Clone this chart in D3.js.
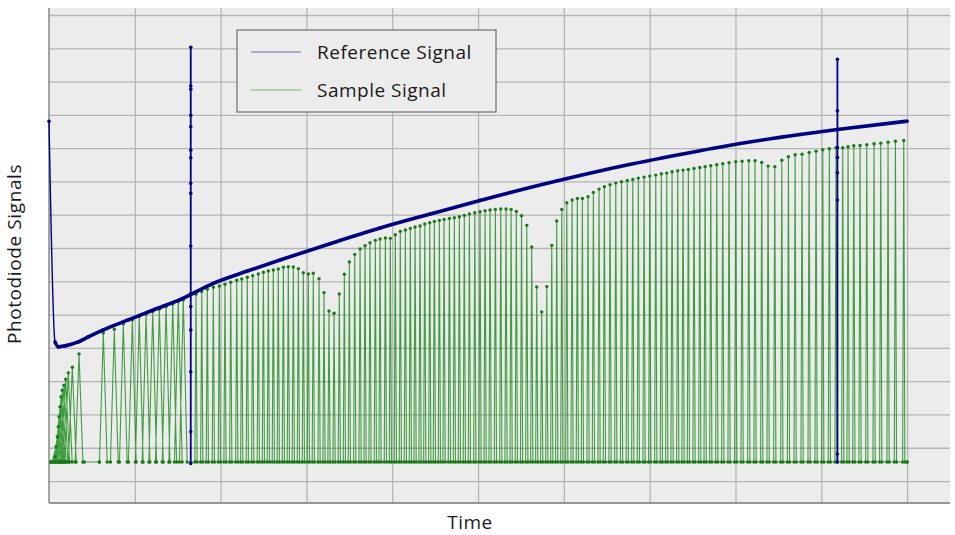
<!DOCTYPE html>
<html>
<head>
<meta charset="utf-8">
<script src="https://cdn.jsdelivr.net/npm/d3@7"></script>
<style>
  body { margin: 0; background: #fff; }
  text { font-family: "Open Sans", "Noto Sans", sans-serif; fill: #1a1a1a; }
</style>
</head>
<body>
<div id="chart"></div>
<script>

// chart values (time in grid units, signal in grid units)

var peakTimes = [
  0.070, 0.082, 0.097, 0.108, 0.117, 0.128, 0.140, 0.155, 0.175, 0.195, 0.225, 0.272, 0.350,
  0.633, 0.761, 0.866, 0.971, 1.052, 1.131, 1.209, 1.286, 1.364, 1.442, 1.507, 1.565,
  1.713, 1.780, 1.845, 1.915, 1.985, 2.051, 2.118, 2.188, 2.246, 2.311, 2.374, 2.439, 2.498,
  2.556, 2.614, 2.672, 2.731, 2.789, 2.847, 2.906, 2.964, 3.022, 3.080, 3.147, 3.205, 3.263,
  3.322, 3.383, 3.442, 3.500, 3.563, 3.625, 3.683, 3.741, 3.803, 3.858, 3.920, 3.978, 4.036,
  4.094, 4.153, 4.211, 4.266, 4.324, 4.379, 4.437, 4.491, 4.549, 4.604, 4.666, 4.724, 4.782,
  4.840, 4.899, 4.962, 5.023, 5.082, 5.140, 5.202, 5.265, 5.326, 5.385, 5.446, 5.507, 5.568,
  5.626, 5.684, 5.742, 5.801, 5.859, 5.917, 5.976, 6.034, 6.096, 6.157, 6.216, 6.282, 6.344,
  6.410, 6.472, 6.538, 6.605, 6.672, 6.739, 6.803, 6.868, 6.935, 7.001, 7.071, 7.136, 7.199,
  7.261, 7.327, 7.389, 7.451, 7.517, 7.584, 7.646, 7.712, 7.782, 7.852, 7.925, 8.003, 8.077,
  8.155, 8.228, 8.306, 8.380, 8.458, 8.540, 8.617, 8.695, 8.776, 8.858, 8.939, 9.017, 9.094,
  9.172, 9.250, 9.312, 9.379, 9.452, 9.530, 9.615, 9.693, 9.778, 9.864, 9.961
];

var peakValues = [
  0.73, 1.03, 1.33, 1.63, 1.93, 2.23, 2.53, 2.73, 2.88, 3.06, 3.25, 3.42, 3.82,
  4.45, 4.56, 4.72, 4.84, 4.94, 5.02, 5.09, 5.16, 5.24, 5.32, 5.39, 5.44,
  5.61, 5.69, 5.76, 5.82, 5.86, 5.91, 5.97, 6.03, 6.07, 6.12, 6.17, 6.22, 6.27,
  6.31, 6.34, 6.37, 6.42, 6.44, 6.43, 6.38, 6.26, 6.22, 6.24, 6.08, 5.66, 5.11,
  5.04, 5.62, 6.21, 6.58, 6.81, 6.97, 7.07, 7.16, 7.23, 7.27, 7.30, 7.29, 7.40,
  7.50, 7.54, 7.59, 7.63, 7.66, 7.72, 7.76, 7.80, 7.83, 7.86, 7.89, 7.91, 7.94,
  7.98, 8.02, 8.06, 8.09, 8.12, 8.14, 8.16, 8.17, 8.17, 8.16, 8.10, 7.97, 7.68,
  7.03, 5.83, 5.08, 5.84, 7.08, 7.81, 8.16, 8.36, 8.44, 8.49, 8.49, 8.54, 8.67,
  8.77, 8.84, 8.90, 8.95, 8.99, 9.03, 9.06, 9.10, 9.13, 9.16, 9.19, 9.23, 9.25,
  9.29, 9.32, 9.34, 9.36, 9.39, 9.42, 9.44, 9.47, 9.50, 9.53, 9.56, 9.59, 9.61,
  9.62, 9.62, 9.57, 9.46, 9.44, 9.64, 9.74, 9.80, 9.82, 9.87, 9.91, 9.95, 9.98,
  10.01, 10.01, 10.04, 10.07, 10.08, 10.10, 10.13, 10.15, 10.18, 10.21, 10.23
];

var baselineLevel = 0.57;
var idleTimes = [0.02, 0.411, 0.586, 10.0];   // flat stretches of the sample signal

var refTimes  = [0, 0.070, 0.108, 0.186, 0.341, 0.458, 0.633, 0.924, 1.235, 1.527, 1.915, 2.304,
                 2.692, 3.275, 3.858, 4.441, 5.023, 5.606, 6.189, 6.655, 7.354, 8.054, 8.753, 9.188, 10.0];
var refValues = [10.81, 4.18, 4.03, 4.06, 4.18, 4.33, 4.54, 4.84, 5.16, 5.45, 5.94, 6.30,
                 6.64, 7.13, 7.60, 8.02, 8.43, 8.82, 9.18, 9.45, 9.81, 10.14, 10.41, 10.56, 10.81];

// the two glitches of the reference signal
var spike1Time = 1.652;
var spike1Values = [5.62, 7.06, 8.64, 9.71, 10.64, 11.77, 13.03, 11.87, 10.99, 9.94, 8.94,
                    5.24, 4.54, 3.28, 1.48, 0.53, 5.62];
var spike2Time = 9.188;
var spike2Values = [10.56, 11.12, 12.67, 10.02, 9.72, 9.26, 8.44, 0.81, 0.57, 10.56];

var seriesNames = ["Reference Signal", "Sample Signal"];
var xTicks = d3.range(0, 11);
var yTicks = d3.range(0, 15);

// layout

var width = 955,
    height = 535,
    margin = {top: 8, right: 5, bottom: 32, left: 49};
var plotW = width - margin.left - margin.right,
    plotH = height - margin.top - margin.bottom;

var navy = "#000080",
    green = "#178a17";

var svg = d3.select("#chart").append("svg")
  .attr("width", width)
  .attr("height", height);

var x = d3.scaleLinear().domain([0, 10.5]).range([margin.left, margin.left + plotW]);
var y = d3.scaleLinear().domain([-0.66, 14.21]).range([margin.top + plotH, margin.top]);

// background
svg.append("rect")
  .attr("x", margin.left).attr("y", margin.top)
  .attr("width", plotW).attr("height", plotH)
  .style("fill", "#ececec");

// grid
svg.append("g")
  .attr("transform", "translate(" + margin.left + ",0)")
  .call(d3.axisLeft(y).tickValues(yTicks).tickSize(-plotW).tickFormat(""))
  .call(g => g.select(".domain").remove())
  .selectAll("line").style("stroke", "#b5b5b5").style("stroke-width", 1.3);

svg.append("g")
  .attr("transform", "translate(0," + (margin.top + plotH) + ")")
  .call(d3.axisBottom(x).tickValues(xTicks.slice(1)).tickSize(-plotH).tickFormat(""))
  .call(g => g.select(".domain").remove())
  .selectAll("line").style("stroke", "#b5b5b5").style("stroke-width", 1.3);

// axis lines
svg.append("line")
  .attr("x1", margin.left).attr("x2", margin.left)
  .attr("y1", margin.top).attr("y2", margin.top + plotH)
  .style("stroke", "#777").style("stroke-width", 1.3);
svg.append("line")
  .attr("x1", margin.left).attr("x2", margin.left + plotW)
  .attr("y1", margin.top + plotH).attr("y2", margin.top + plotH)
  .style("stroke", "#777").style("stroke-width", 1.3);

// sample signal: each pulse rises from the baseline and falls back
var halfWidth = function(t) { return t < 1.6 ? 0.045 : 0.013; };

var samplePts = [[idleTimes[0], baselineLevel]];
peakTimes.forEach(function(t, i) {
  var w = halfWidth(t);
  samplePts.push([t - w, baselineLevel], [t, peakValues[i]], [t + w, baselineLevel]);
});
samplePts.push([idleTimes[idleTimes.length - 1], baselineLevel]);

var line = d3.line().x(d => x(d[0])).y(d => y(d[1]));

svg.append("path")
  .datum(samplePts)
  .attr("d", line)
  .style("fill", "none")
  .style("stroke", green)
  .style("stroke-opacity", 0.8)
  .style("stroke-width", 1.1);

svg.append("g").selectAll("circle")
  .data(samplePts.concat(idleTimes.map(t => [t, baselineLevel])))
  .enter().append("circle")
  .attr("cx", d => x(d[0]))
  .attr("cy", d => y(d[1]))
  .attr("r", 1.7)
  .style("fill", "#1a7a1a");

// reference signal
var refPts = refTimes.map((t, i) => [t, refValues[i]]);
var smooth = d3.line().x(d => x(d[0])).y(d => y(d[1])).curve(d3.curveMonotoneX);

svg.append("path")
  .datum(refPts)
  .attr("d", smooth)
  .style("fill", "none").style("stroke", navy).style("stroke-width", 1.4);

// dense sampling makes the slow part of the curve look heavy
svg.append("path")
  .datum(refPts.slice(1))
  .attr("d", smooth)
  .style("fill", "none").style("stroke", navy).style("stroke-width", 3.6);

var spikePts = spike1Values.map(v => [spike1Time, v])
  .concat(spike2Values.map(v => [spike2Time, v]));

[spike1Values.map(v => [spike1Time, v]), spike2Values.map(v => [spike2Time, v])].forEach(function(pts) {
  svg.append("path")
    .datum(pts)
    .attr("d", line)
    .style("fill", "none").style("stroke", navy).style("stroke-width", 1.8);
});

svg.append("g").selectAll("circle")
  .data(refPts.concat(spikePts))
  .enter().append("circle")
  .attr("cx", d => x(d[0]))
  .attr("cy", d => y(d[1]))
  .attr("r", 1.8)
  .style("fill", navy);

// legend
var legend = svg.append("g").attr("transform", "translate(237,30)");
legend.append("rect")
  .attr("width", 259).attr("height", 82)
  .style("fill", "#ececec").style("stroke", "#6e6e6e").style("stroke-width", 1.2);

legend.selectAll("g.item")
  .data(seriesNames)
  .enter().append("g")
  .attr("class", "item")
  .attr("transform", (d, i) => "translate(0," + (22 + i * 38) + ")")
  .each(function(d, i) {
    var g = d3.select(this);
    g.append("line")
      .attr("x1", 14).attr("x2", 64)
      .style("stroke", i == 0 ? navy : green)
      .style("stroke-opacity", 0.55)
      .style("stroke-width", 1.2);
    g.append("text")
      .attr("x", 80).attr("y", 6.5)
      .style("font-size", "19px")
      .style("letter-spacing", "0.5px")
      .text(d);
  });

// axis titles
svg.append("text")
  .attr("x", 470).attr("y", 529)
  .attr("text-anchor", "middle")
  .style("font-size", "19px")
  .style("letter-spacing", "0.5px")
  .text("Time");

svg.append("text")
  .attr("transform", "translate(21,254) rotate(-90)")
  .attr("text-anchor", "middle")
  .style("font-size", "19px")
  .style("letter-spacing", "0.6px")
  .text("Photodiode Signals");

</script>
</body>
</html>
